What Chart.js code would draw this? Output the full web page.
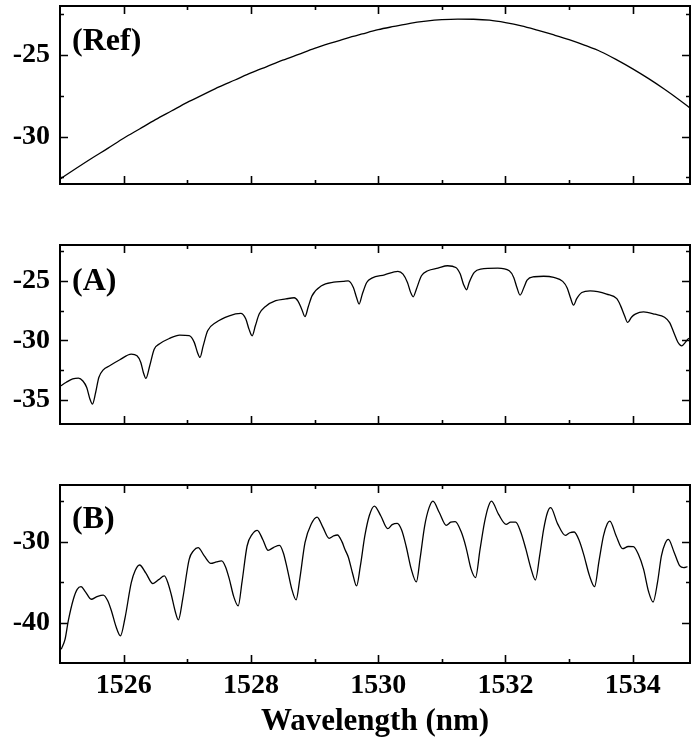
<!DOCTYPE html>
<html>
<head>
<meta charset="utf-8">
<script src="https://cdn.jsdelivr.net/npm/chart.js@4.4.0/dist/chart.umd.min.js"></script>
<style>
  body { margin: 0; background: #fff; }
  #wrap { position: relative; width: 691px; height: 737px; }
  .panel { position: absolute; left: 0; width: 691px; }
</style>
</head>
<body>
<div id="wrap">
  <div class="panel" style="top:0;height:200px"><canvas id="refChart"></canvas></div>
  <div class="panel" style="top:220px;height:220px"><canvas id="aChart"></canvas></div>
  <div class="panel" style="top:470px;height:267px"><canvas id="bChart"></canvas></div>
</div>
<script>
// shared wavelength axis (nm)
const wlMajor = [1526, 1528, 1530, 1532, 1534];
const wlMinor = [1527, 1529, 1531, 1533];

// (Ref) reference spectrum
const refWl = [1525.00, 1525.25, 1525.50, 1525.75, 1526.00, 1526.25, 1526.50, 1526.75,
  1527.00, 1527.25, 1527.50, 1527.75, 1528.00, 1528.25, 1528.50, 1528.75, 1529.00,
  1529.25, 1529.50, 1529.75, 1530.00, 1530.25, 1530.50, 1530.75, 1531.00, 1531.25,
  1531.50, 1531.75, 1532.00, 1532.25, 1532.50, 1532.75, 1533.00, 1533.25, 1533.50,
  1533.75, 1534.00, 1534.25, 1534.50, 1534.75, 1534.90];
const refPower = [-32.60, -31.95, -31.32, -30.72, -30.10, -29.53, -28.96, -28.43,
  -27.90, -27.43, -26.95, -26.53, -26.10, -25.71, -25.32, -24.96, -24.60,
  -24.28, -23.98, -23.71, -23.45, -23.25, -23.06, -22.93, -22.84, -22.80,
  -22.81, -22.87, -23.02, -23.22, -23.48, -23.76, -24.06, -24.41, -24.80,
  -25.30, -25.85, -26.45, -27.10, -27.80, -28.25];
const refYMajor = [-30, -25];
const refYMinor = [-32.5, -27.5, -22.5];

// (A)
const aWl = [1525.00, 1525.10, 1525.20, 1525.29, 1525.36, 1525.42, 1525.47, 1525.51,
  1525.56, 1525.61, 1525.68, 1525.78, 1525.94, 1526.12, 1526.21, 1526.27, 1526.31,
  1526.35, 1526.41, 1526.48, 1526.56, 1526.72, 1526.88, 1527.03, 1527.11, 1527.16,
  1527.20, 1527.25, 1527.32, 1527.45, 1527.66, 1527.84, 1527.92, 1527.97, 1528.02,
  1528.07, 1528.13, 1528.23, 1528.39, 1528.55, 1528.68, 1528.74, 1528.80, 1528.85,
  1528.90, 1528.96, 1529.11, 1529.30, 1529.45, 1529.53, 1529.61, 1529.66, 1529.70,
  1529.75, 1529.82, 1529.90, 1530.10, 1530.31, 1530.39, 1530.46, 1530.51, 1530.55,
  1530.60, 1530.68, 1530.78, 1530.94, 1531.09, 1531.22, 1531.29, 1531.34, 1531.39,
  1531.43, 1531.51, 1531.61, 1531.88, 1532.06, 1532.13, 1532.18, 1532.23, 1532.29,
  1532.34, 1532.45, 1532.60, 1532.76, 1532.90, 1532.97, 1533.02, 1533.07, 1533.12,
  1533.20, 1533.33, 1533.45, 1533.59, 1533.75, 1533.81, 1533.87, 1533.92, 1533.98,
  1534.04, 1534.17, 1534.35, 1534.50, 1534.58, 1534.65, 1534.71, 1534.77, 1534.82,
  1534.88];
const aPower = [-33.85, -33.50, -33.22, -33.15, -33.40, -33.94, -34.90, -35.33,
  -34.36, -33.10, -32.46, -32.12, -31.62, -31.14, -31.28, -31.84, -32.68,
  -33.18, -32.12, -30.73, -30.30, -29.83, -29.55, -29.60, -30.16, -31.00,
  -31.42, -30.45, -29.19, -28.49, -27.93, -27.73, -28.20, -29.05, -29.61,
  -28.77, -27.79, -27.15, -26.67, -26.52, -26.42, -26.70, -27.40, -28.00,
  -27.20, -26.26, -25.42, -25.12, -25.05, -25.00, -25.56, -26.40, -26.95,
  -26.12, -25.14, -24.78, -24.50, -24.21, -24.44, -25.14, -25.97, -26.34,
  -25.70, -24.58, -24.16, -23.94, -23.74, -23.88, -24.44, -25.28, -25.75,
  -25.14, -24.30, -24.02, -23.94, -24.16, -24.72, -25.56, -26.20, -25.56,
  -24.94, -24.66, -24.62, -24.72, -25.05, -25.60, -26.40, -27.04, -26.50,
  -25.98, -25.84, -25.90, -26.11, -26.50, -27.10, -27.90, -28.49, -28.05,
  -27.79, -27.60, -27.80, -28.05, -28.50, -29.40, -30.15, -30.45, -30.20,
  -29.80];
const aYMajor = [-35, -30, -25];
const aYMinor = [-32.5, -27.5, -22.5];

// (B)
const bWl = [1525.02, 1525.08, 1525.13, 1525.21, 1525.27, 1525.33, 1525.40, 1525.49,
  1525.58, 1525.68, 1525.75, 1525.81, 1525.88, 1525.95, 1526.02, 1526.12, 1526.18,
  1526.25, 1526.35, 1526.46, 1526.55, 1526.64, 1526.70, 1526.75, 1526.81, 1526.86,
  1526.93, 1527.03, 1527.10, 1527.17, 1527.27, 1527.37, 1527.46, 1527.54, 1527.60,
  1527.66, 1527.73, 1527.80, 1527.86, 1527.94, 1528.02, 1528.10, 1528.19, 1528.27,
  1528.36, 1528.45, 1528.51, 1528.57, 1528.64, 1528.71, 1528.77, 1528.85, 1528.95,
  1529.04, 1529.13, 1529.23, 1529.30, 1529.36, 1529.43, 1529.48, 1529.53, 1529.60,
  1529.66, 1529.72, 1529.79, 1529.86, 1529.94, 1530.04, 1530.15, 1530.22, 1530.30,
  1530.37, 1530.44, 1530.52, 1530.60, 1530.66, 1530.73, 1530.80, 1530.86, 1530.96,
  1531.07, 1531.14, 1531.21, 1531.30, 1531.38, 1531.46, 1531.53, 1531.60, 1531.67,
  1531.73, 1531.78, 1531.89, 1532.01, 1532.08, 1532.16, 1532.24, 1532.32, 1532.40,
  1532.47, 1532.54, 1532.60, 1532.66, 1532.71, 1532.82, 1532.94, 1533.01, 1533.08,
  1533.16, 1533.23, 1533.32, 1533.40, 1533.47, 1533.54, 1533.60, 1533.64, 1533.74,
  1533.84, 1533.93, 1534.01, 1534.09, 1534.17, 1534.25, 1534.32, 1534.39, 1534.45,
  1534.51, 1534.56, 1534.65, 1534.74, 1534.80, 1534.86];
const bPower = [-43.30, -42.06, -39.80, -37.12, -35.90, -35.56, -36.20, -37.12,
  -36.80, -36.60, -37.30, -38.60, -40.50, -41.65, -39.50, -35.07, -33.60,
  -32.89, -33.90, -35.19, -34.70, -34.24, -35.20, -36.60, -38.60, -39.67,
  -37.00, -32.19, -31.10, -30.74, -31.80, -32.68, -32.50, -32.39, -33.10,
  -34.60, -36.80, -37.95, -35.00, -30.54, -29.10, -28.60, -29.80, -31.07,
  -30.70, -30.46, -31.40, -33.30, -35.80, -37.20, -34.50, -30.12, -27.80,
  -26.96, -28.20, -29.59, -29.30, -29.18, -30.00, -31.00, -31.90, -34.00,
  -35.48, -33.00, -29.30, -26.80, -25.60, -26.80, -28.40, -27.90, -27.74,
  -28.60, -30.60, -33.40, -34.98, -32.00, -28.07, -25.80, -24.99, -26.40,
  -27.99, -27.60, -27.53, -28.70, -30.70, -33.40, -34.44, -31.00, -27.65,
  -25.70, -24.99, -26.60, -27.86, -27.60, -27.58, -28.80, -30.90, -33.30,
  -34.74, -31.60, -28.48, -26.40, -25.80, -27.80, -29.22, -28.90, -28.81,
  -29.90, -31.60, -34.20, -35.56, -32.40, -29.30, -27.80, -27.46, -29.30,
  -30.87, -30.60, -30.62, -31.60, -33.40, -36.20, -37.46, -35.00, -31.78,
  -30.20, -29.72, -31.30, -33.00, -33.20, -33.10];
const bYMajor = [-40, -30];
const bYMinor = [-45, -35, -25];

const SERIF = '"Liberation Serif", "Times New Roman", serif';

// box frame with inward ticks on all four sides, plus the panel tag
const framePlugin = {
  id: 'frame',
  afterDraw(chart, args, opts) {
    const { ctx, chartArea: a, scales: { x, y } } = chart;
    ctx.save();
    ctx.strokeStyle = '#000';
    ctx.lineWidth = 1.6;
    ctx.beginPath();
    const xTick = (v, len) => {
      const px = Math.round(x.getPixelForValue(v)) + 0.5;
      ctx.moveTo(px, a.top); ctx.lineTo(px, a.top + len);
      ctx.moveTo(px, a.bottom); ctx.lineTo(px, a.bottom - len);
    };
    const yTick = (v, len) => {
      const py = Math.round(y.getPixelForValue(v)) + 0.5;
      if (py < a.top || py > a.bottom) return;
      ctx.moveTo(a.left, py); ctx.lineTo(a.left + len, py);
      ctx.moveTo(a.right, py); ctx.lineTo(a.right - len, py);
    };
    wlMajor.forEach(v => xTick(v, 8));
    wlMinor.forEach(v => xTick(v, 4));
    opts.yMajor.forEach(v => yTick(v, 8));
    opts.yMinor.forEach(v => yTick(v, 4));
    ctx.stroke();
    ctx.lineWidth = 2;
    ctx.strokeRect(a.left, a.top, a.right - a.left, a.bottom - a.top);
    ctx.fillStyle = '#000';
    ctx.font = 'bold 32px ' + SERIF;
    ctx.textBaseline = 'middle';
    ctx.fillText(opts.tag, a.left + 12, a.top + opts.tagDy);
    ctx.restore();
  }
};

function makePanel(id, wl, power, cfg) {
  const bottomAxis = cfg.showX;
  new Chart(document.getElementById(id), {
    type: 'line',
    data: {
      datasets: [{
        data: wl.map((w, i) => ({ x: w, y: power[i] })),
        borderColor: '#000',
        borderWidth: 1.3,
        pointRadius: 0,
        cubicInterpolationMode: 'monotone',
        fill: false
      }]
    },
    options: {
      animation: false,
      responsive: true,
      maintainAspectRatio: false,
      layout: { padding: { top: cfg.padTop, right: 1, left: 0, bottom: 0 } },
      plugins: {
        legend: { display: false },
        tooltip: { enabled: false },
        frame: { yMajor: cfg.yMajor, yMinor: cfg.yMinor, tag: cfg.tag, tagDy: cfg.tagDy }
      },
      scales: {
        x: {
          type: 'linear',
          min: 1525,
          max: 1534.9,
          grid: { display: false, drawTicks: false },
          border: { display: false },
          afterBuildTicks: s => { s.ticks = wlMajor.map(v => ({ value: v })); },
          afterFit: s => {
            s.height = cfg.xHeight;
            s.paddingLeft = 0;
            s.paddingRight = 0;
          },
          ticks: {
            display: bottomAxis,
            autoSkip: false,
            maxRotation: 0,
            padding: 6,
            color: '#000',
            font: { family: SERIF, size: 28, weight: 'bold' },
            callback: v => String(v)
          },
          title: {
            display: bottomAxis,
            text: 'Wavelength (nm)',
            color: '#000',
            font: { family: SERIF, size: 31, weight: 'bold', lineHeight: 1 },
            padding: { top: 0, bottom: 0 }
          }
        },
        y: {
          min: cfg.yMin,
          max: cfg.yMax,
          grid: { display: false, drawTicks: false },
          border: { display: false },
          afterBuildTicks: s => { s.ticks = cfg.yMajor.map(v => ({ value: v })); },
          afterFit: s => {
            s.width = 60;
            s.paddingTop = 0;
            s.paddingBottom = 0;
          },
          ticks: {
            padding: 10,
            color: '#000',
            font: { family: SERIF, size: 28, weight: 'bold' },
            callback: v => String(v)
          }
        }
      }
    },
    plugins: [framePlugin]
  });
}

makePanel('refChart', refWl, refPower, {
  yMin: -32.9, yMax: -22.0, yMajor: refYMajor, yMinor: refYMinor,
  padTop: 6, xHeight: 16, showX: false, tag: '(Ref)', tagDy: 36
});
makePanel('aChart', aWl, aPower, {
  yMin: -37, yMax: -22, yMajor: aYMajor, yMinor: aYMinor,
  padTop: 25, xHeight: 16, showX: false, tag: '(A)', tagDy: 37
});
makePanel('bChart', bWl, bPower, {
  yMin: -45, yMax: -23, yMajor: bYMajor, yMinor: bYMinor,
  padTop: 15, xHeight: 74, showX: true, tag: '(B)', tagDy: 35
});
</script>
</body>
</html>
